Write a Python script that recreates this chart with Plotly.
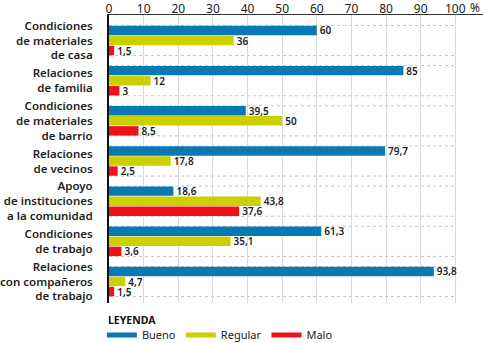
import plotly.graph_objects as go

categories = [
    "Condiciones<br>de materiales<br>de casa",
    "Relaciones<br>de familia",
    "Condiciones<br>de materiales<br>de barrio",
    "Relaciones<br>de vecinos",
    "Apoyo<br>de instituciones<br>a la comunidad",
    "Condiciones<br>de trabajo",
    "Relaciones<br>con compañeros<br>de trabajo",
]
bueno = [60, 85, 39.5, 79.7, 18.6, 61.3, 93.8]
regular = [36, 12, 50, 17.8, 43.8, 35.1, 4.7]
malo = [1.5, 3, 8.5, 2.5, 37.6, 3.6, 1.5]
series_names = ["Bueno", "Regular", "Malo"]
colors = ["#0a78b2", "#cdd000", "#f0121a"]
x_ticks = [0, 10, 20, 30, 40, 50, 60, 70, 80, 90, 100]

FONT = "Noto Sans"


def fmt(v):
    return f"{v:g}".replace(".", ",")


fig = go.Figure()
for name, vals, col in zip(series_names, [bueno, regular, malo], colors):
    fig.add_trace(go.Bar(
        y=categories, x=vals, orientation="h", name=name,
        marker=dict(color=col, line=dict(width=0)),
        text=[fmt(v) for v in vals], textposition="outside",
        textfont=dict(family=FONT, size=10, color="#222", weight=600),
        constraintext="none", cliponaxis=False, showlegend=False,
    ))
    # legend proxy
    fig.add_trace(go.Scatter(
        x=[None], y=[None], mode="lines", name=name,
        line=dict(color=col, width=5), showlegend=True,
    ))

# dotted separators at the top and bottom of each group
shapes = []
half = 0.375
for i in range(len(categories)):
    for yy in (i - half, i + half):
        shapes.append(dict(type="line", xref="x", yref="y", x0=0, x1=100,
                           y0=yy, y1=yy, layer="below",
                           line=dict(color="#c4c4c4", width=1, dash="dot")))

annotations = [
    dict(x=100, xref="x", y=1, yref="paper", text="%", showarrow=False,
         xanchor="left", yanchor="bottom", xshift=13, yshift=-3,
         font=dict(family=FONT, size=12, color="#222")),
    dict(x=0, xref="paper", y=-0.059, yref="paper", text="<b>LEYENDA</b>",
         showarrow=False, xanchor="left", yanchor="middle", xshift=-3,
         font=dict(family=FONT, size=10.5, color="#111", weight=800)),
]

fig.update_layout(
    width=483, height=343,
    margin=dict(l=109, r=0, t=15, b=40, autoexpand=False),
    paper_bgcolor="white", plot_bgcolor="white",
    barmode="group", bargap=0.25, bargroupgap=0.06,
    font=dict(family=FONT, color="#222"),
    shapes=shapes, annotations=annotations,
    xaxis=dict(
        side="top", range=[0, 108], tickvals=x_ticks,
        ticktext=[str(t) for t in x_ticks],
        tickfont=dict(family=FONT, size=12, color="#222"),
        showgrid=True, gridcolor="#dadada", gridwidth=1,
        showline=True, linecolor="#333", linewidth=1,
        zeroline=False, ticks="", automargin=False,
        ticklabelstandoff=-4,
    ),
    yaxis=dict(
        type="category", range=[6.535, -0.635],
        tickfont=dict(family=FONT, size=11.5, color="#1e1e1e", weight=600),
        ticklabelstandoff=12, automargin=False,
        showgrid=False,
        showline=True, linecolor="#111", linewidth=2, ticks="",
        zeroline=False,
    ),
    legend=dict(
        orientation="h", x=-0.019, xanchor="left", y=-0.111, yanchor="middle",
        font=dict(family=FONT, size=11, color="#222"),
        itemwidth=30, tracegroupgap=0,
        bgcolor="rgba(0,0,0,0)",
    ),
)

fig.write_html(
    "out.html",
    config={"displayModeBar": False},
    post_script="document.body.style.margin='0';document.body.style.overflow='hidden';",
)
